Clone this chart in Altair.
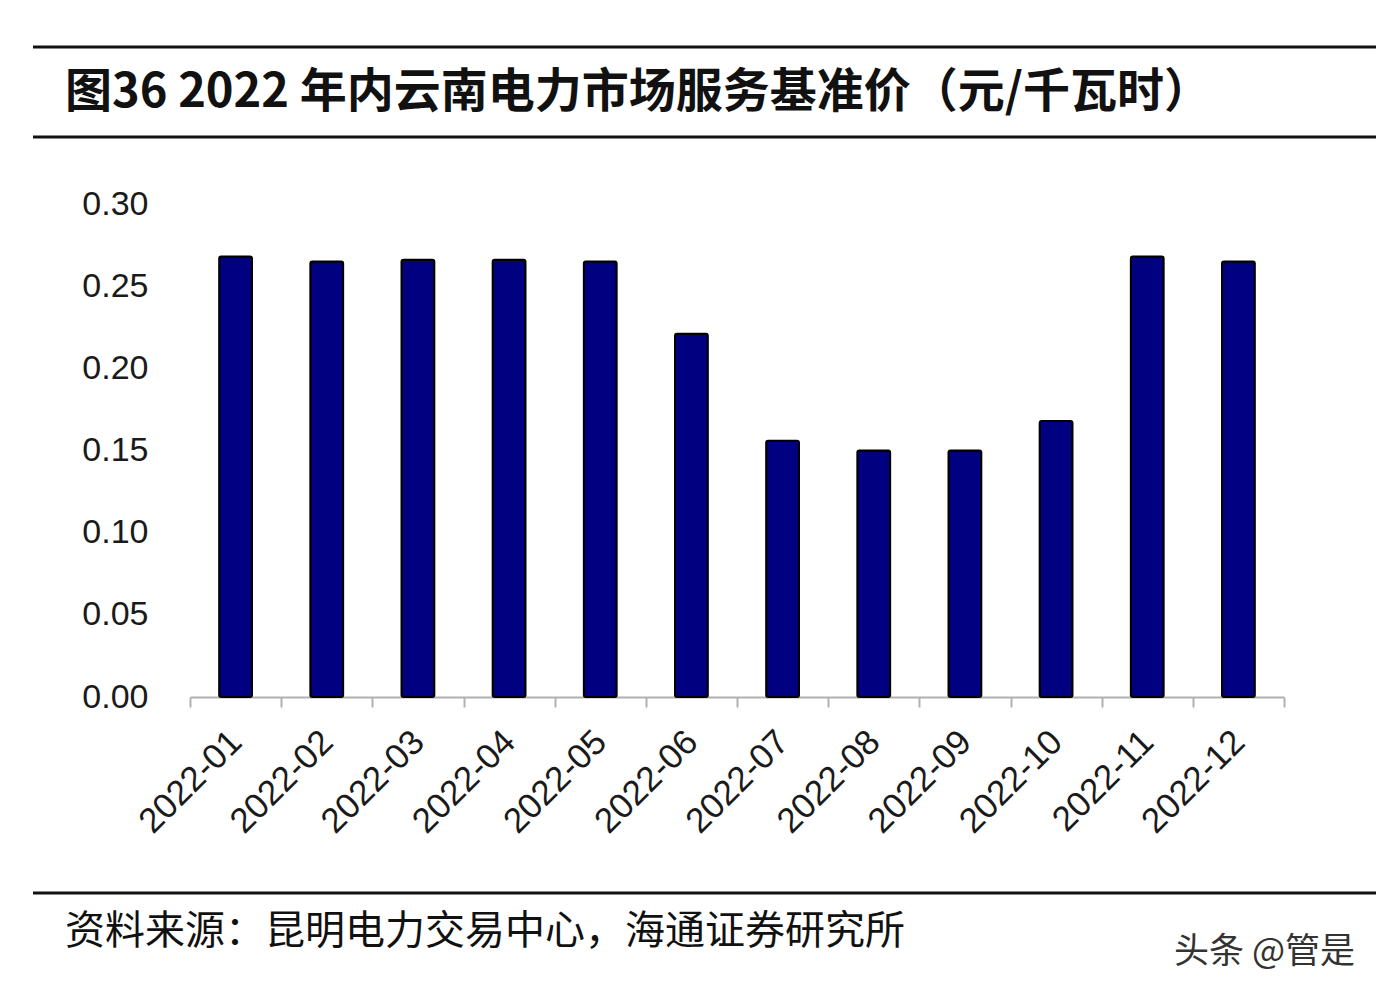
import altair as alt
import pandas as pd

months = ["2022-01", "2022-02", "2022-03", "2022-04", "2022-05", "2022-06",
          "2022-07", "2022-08", "2022-09", "2022-10", "2022-11", "2022-12"]
prices = [0.268, 0.265, 0.266, 0.266, 0.265, 0.221,
          0.156, 0.150, 0.150, 0.168, 0.268, 0.265]
y_ticks = [0.00, 0.05, 0.10, 0.15, 0.20, 0.25, 0.30]

title_text = "图36 2022 年内云南电力市场服务基准价（元/千瓦时）"
source_text = "资料来源：昆明电力交易中心，海通证券研究所"
watermark_text = "头条 @管是"

df = pd.DataFrame({"month": months, "price": prices})
one = pd.DataFrame({"k": [0]})

W, H = 1094, 493
CJK = "Noto Sans CJK SC"

bars = alt.Chart(df).mark_bar(
    color="#000080", stroke="#000000", strokeWidth=2, cornerRadius=2,
    width=alt.RelativeBandSize(0.36)
).encode(
    x=alt.X("month:N", sort=months,
            scale=alt.Scale(paddingInner=0, paddingOuter=0),
            axis=alt.Axis(title=None, labelAngle=-45, labelAlign="right",
                          labelBaseline="middle", labelFontSize=35,
                          labelFont="Liberation Sans", labelColor="#1a1a1a",
                          labelPadding=29, tickBand="extent", ticks=True,
                          tickSize=10, tickColor="#b0b0b0", tickWidth=2,
                          domainColor="#b0b0b0", domainWidth=2, grid=False)),
    y=alt.Y("price:Q", scale=alt.Scale(domain=[0, 0.30], nice=False),
            axis=alt.Axis(title=None, values=y_ticks, format=".2f",
                          labelFontSize=34, labelFont="Liberation Sans",
                          labelColor="#1a1a1a", labelPadding=42,
                          domain=False, ticks=False, grid=False)),
)

def hline(ypix):
    return alt.Chart(one).mark_rule(color="#111111", strokeWidth=3).encode(
        x=alt.value(-157), x2=alt.value(1200), y=alt.value(ypix))

title = alt.Chart(one).mark_text(
    text=title_text, font=CJK, fontSize=47, fontWeight="bold",
    align="left", baseline="middle", color="#111111"
).encode(x=alt.value(-125), y=alt.value(-111))

source = alt.Chart(one).mark_text(
    text=source_text, font=CJK, fontSize=40,
    align="left", baseline="middle", color="#111111"
).encode(x=alt.value(-125), y=alt.value(728))

watermark = alt.Chart(one).mark_text(
    text=watermark_text, font=CJK, fontSize=35,
    align="right", baseline="middle", color="#333333"
).encode(x=alt.value(1165), y=alt.value(748))

chart = alt.layer(
    bars, hline(-157), hline(-67), hline(689), title, source, watermark
).properties(
    width=W, height=H,
    autosize=alt.AutoSizeParams(type="none"),
    padding={"left": 182, "top": 196, "right": 92, "bottom": 293},
    background="#ffffff",
).configure_view(stroke=None)

chart.save("out.html", embed_options={"renderer": "svg", "actions": False})
